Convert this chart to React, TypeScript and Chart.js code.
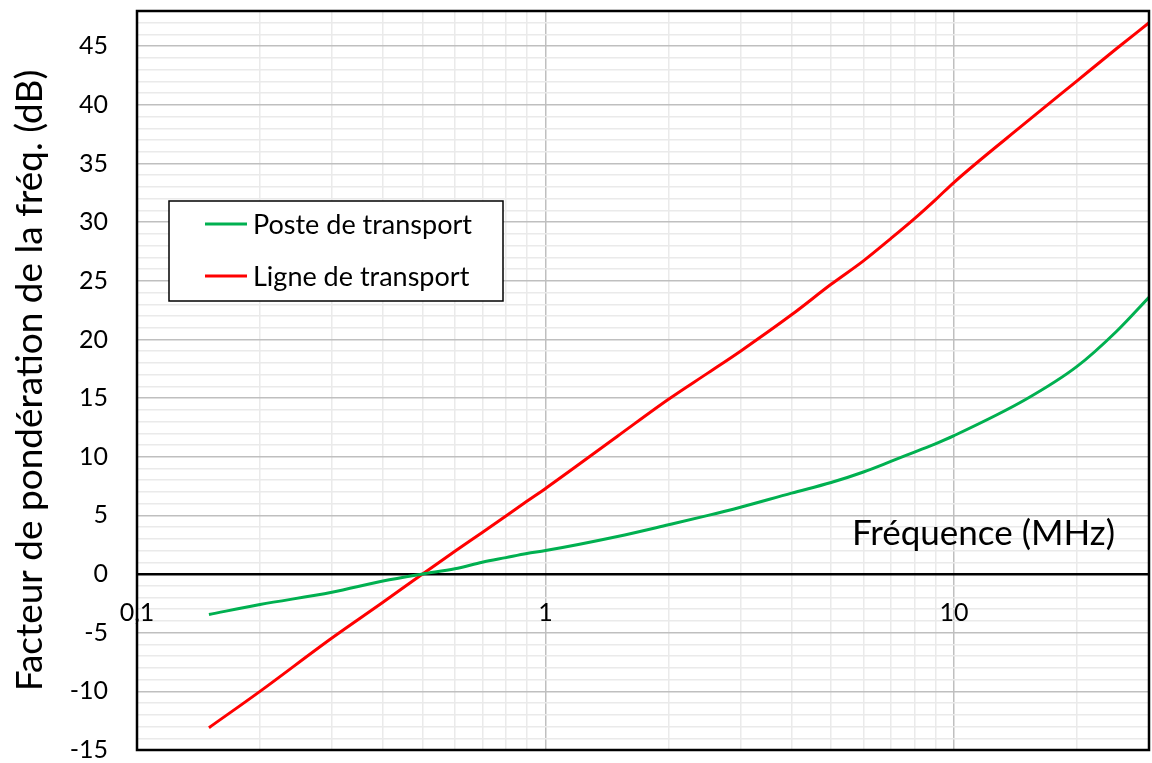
import { useEffect, useRef } from "react";
import { Chart, registerables } from "chart.js";

Chart.register(...registerables);

// Frequencies in MHz (log axis)
const FREQ_MHZ = [0.15, 0.2, 0.3, 0.4, 0.5, 0.6, 0.7, 0.8, 0.9, 1, 1.5, 2, 2.5, 3, 4, 5, 6, 7, 8, 9, 10, 15, 20, 25, 30];

// Weighting factor (dB) for each series
const POSTE_DB = [-3.45, -2.6, -1.55, -0.6, 0, 0.45, 1.0, 1.4, 1.75, 2.0, 3.2, 4.2, 5.0, 5.7, 6.9, 7.8, 8.7, 9.6, 10.4, 11.1, 11.8, 14.9, 17.7, 20.7, 23.6];
const LIGNE_DB = [-13.1, -10.0, -5.45, -2.4, 0, 1.95, 3.55, 4.95, 6.2, 7.3, 11.75, 14.9, 17.15, 19.0, 22.1, 24.7, 26.7, 28.6, 30.3, 31.9, 33.4, 38.5, 42.05, 44.8, 47.0];

const SERIES_NAMES = ["Poste de transport", "Ligne de transport"];
const SERIES_COLORS = ["#00B050", "#FF0000"];

// Grid positions on the frequency axis and the labelled decades
const X_GRID = [0.1, 0.2, 0.3, 0.4, 0.5, 0.6, 0.7, 0.8, 0.9, 1, 2, 3, 4, 5, 6, 7, 8, 9, 10, 20, 30];
const X_LABEL_VALUES = [0.1, 1, 10];
const X_LABEL_TEXT = ["0,1", "1", "10"];

const X_MIN = 0.1;
const X_MAX = 30;
const Y_MIN = -15;
const Y_MAX = 48;

const X_TITLE = "Fréquence (MHz)";
const Y_TITLE = "Facteur de pondération de la fréq. (dB)";

const FONT = "Lato, 'Open Sans', sans-serif";

const framePlugin = {
  id: "frame",
  afterDraw(chart: any) {
    const { ctx, chartArea } = chart;
    ctx.save();
    ctx.strokeStyle = "#000";
    ctx.lineWidth = 2.5;
    ctx.strokeRect(chartArea.left, chartArea.top, chartArea.right - chartArea.left, chartArea.bottom - chartArea.top);
    ctx.restore();
  },
};

const xTitlePlugin = {
  id: "xTitle",
  afterDatasetsDraw(chart: any) {
    const { ctx, chartArea, scales } = chart;
    const y0 = scales.y.getPixelForValue(0);
    ctx.save();
    ctx.font = `35px ${FONT}`;
    ctx.fillStyle = "#000";
    ctx.textAlign = "right";
    ctx.textBaseline = "middle";
    ctx.fillText(X_TITLE, chartArea.right - 34, y0 - 40);
    ctx.restore();
  },
};

const legendPlugin = {
  id: "boxLegend",
  afterDatasetsDraw(chart: any) {
    const { ctx, chartArea } = chart;
    const left = chartArea.left + 32;
    const top = chartArea.top + 190;
    const w = 334;
    const h = 100;
    ctx.save();
    ctx.fillStyle = "#fff";
    ctx.fillRect(left, top, w, h);
    ctx.strokeStyle = "#000";
    ctx.lineWidth = 1.5;
    ctx.strokeRect(left, top, w, h);
    ctx.font = `27px ${FONT}`;
    ctx.textAlign = "left";
    ctx.textBaseline = "middle";
    chart.data.datasets.forEach((ds: any, i: number) => {
      const y = top + 23 + i * 52;
      ctx.strokeStyle = ds.borderColor;
      ctx.lineWidth = 3;
      ctx.beginPath();
      ctx.moveTo(left + 36, y);
      ctx.lineTo(left + 78, y);
      ctx.stroke();
      ctx.fillStyle = "#000";
      ctx.fillText(ds.label, left + 84, y + 1);
    });
    ctx.restore();
  },
};

export default function App() {
  const canvasRef = useRef<HTMLCanvasElement | null>(null);

  useEffect(() => {
    const canvas = canvasRef.current;
    if (!canvas) return;
    const seriesValues = [POSTE_DB, LIGNE_DB];
    const chart = new Chart(canvas, {
      type: "line",
      data: {
        datasets: seriesValues.map((vals, i) => ({
          label: SERIES_NAMES[i],
          data: FREQ_MHZ.map((f, j) => ({ x: f, y: vals[j] })),
          borderColor: SERIES_COLORS[i],
          backgroundColor: SERIES_COLORS[i],
          borderWidth: 3,
          pointRadius: 0,
          cubicInterpolationMode: "monotone" as const,
          fill: false,
        })),
      },
      options: {
        animation: false,
        responsive: true,
        maintainAspectRatio: false,
        layout: { padding: { left: 0, top: 11, right: 3, bottom: 13 } },
        plugins: {
          legend: { display: false },
          tooltip: { enabled: false },
        },
        scales: {
          x: {
            type: "logarithmic",
            position: { y: 0 } as any,
            min: X_MIN,
            max: X_MAX,
            afterBuildTicks: (scale: any) => {
              scale.ticks = X_GRID.map((v) => ({ value: v }));
            },
            afterFit: (scale: any) => {
              scale.height = 0;
              scale.paddingLeft = 0;
              scale.paddingRight = 0;
              scale.paddingTop = 0;
              scale.paddingBottom = 0;
            },
            ticks: {
              autoSkip: false,
              maxRotation: 0,
              minRotation: 0,
              padding: 24,
              color: "#000",
              font: { family: FONT, size: 25 },
              callback: (value: any) => {
                const k = X_LABEL_VALUES.findIndex((v) => Math.abs(v - Number(value)) < 1e-9);
                return k >= 0 ? X_LABEL_TEXT[k] : "";
              },
            },
            grid: {
              drawTicks: false,
              lineWidth: 1.5,
              color: (ctx: any) => {
                const v = ctx.tick ? ctx.tick.value : 0;
                return X_LABEL_VALUES.some((m) => Math.abs(m - v) < 1e-9) ? "#BFBFBF" : "#EAEAEA";
              },
            },
            border: { display: true, color: "#000", width: 2.5 },
          },
          y: {
            type: "linear",
            min: Y_MIN,
            max: Y_MAX,
            afterFit: (scale: any) => {
              scale.width = 137;
              scale.paddingTop = 0;
              scale.paddingBottom = 0;
            },
            ticks: {
              stepSize: 1,
              autoSkip: false,
              padding: 29,
              color: "#000",
              font: { family: FONT, size: 25 },
              callback: (value: any) => (Number(value) % 5 === 0 ? String(value) : ""),
            },
            grid: {
              drawTicks: false,
              lineWidth: 1.5,
              color: (ctx: any) => {
                const v = ctx.tick ? ctx.tick.value : 0;
                return v % 5 === 0 ? "#BFBFBF" : "#EAEAEA";
              },
            },
            border: { display: false },
            title: {
              display: true,
              text: Y_TITLE,
              color: "#000",
              font: { family: FONT, size: 37 },
              padding: { top: 8, bottom: 0 },
            },
          },
        },
      },
      plugins: [xTitlePlugin, legendPlugin, framePlugin],
    });
    return () => chart.destroy();
  }, []);

  return (
    <div style={{ position: "fixed", left: 0, top: 0, width: 1152, height: 763, background: "#fff" }}>
      <canvas ref={canvasRef} />
    </div>
  );
}
